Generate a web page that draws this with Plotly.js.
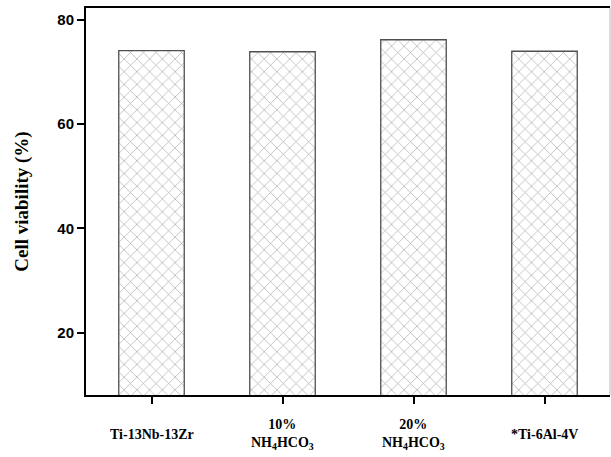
<!DOCTYPE html>
<html>
<head>
<meta charset="utf-8">
<script src="https://cdn.plot.ly/plotly-3.0.1.min.js"></script>
<style>html,body{margin:0;padding:0;background:#fff;}#chart{width:611px;height:457px;}</style>
</head>
<body>
<div id="chart"></div>
<script>
const categories = ["Ti-13Nb-13Zr", "10% NH4HCO3", "20% NH4HCO3", "*Ti-6Al-4V"];
const tickLabels = ["Ti-13Nb-13Zr", "10%<br>NH<sub>4</sub>HCO<sub>3</sub>", "20%<br>NH<sub>4</sub>HCO<sub>3</sub>", "*Ti-6Al-4V"];
const viability = [74.1, 73.9, 76.2, 74.0];
const yTicks = [20, 40, 60, 80];

const serif = "Liberation Serif, Times New Roman, serif";
const sans = "Liberation Sans, Arial, sans-serif";

const trace = {
  type: "bar",
  x: categories,
  y: viability,
  width: 0.5,
  marker: {
    color: "#ffffff",
    line: {color: "#505050", width: 1.3},
    pattern: {shape: "x", size: 9, solidity: 0.16, fgcolor: "#666666", bgcolor: "#ffffff", fillmode: "overlay"}
  },
  hoverinfo: "none"
};

const annotations = categories.map((c, i) => ({
  x: c, xref: "x", y: 0, yref: "paper",
  yanchor: "middle", xanchor: "center", yshift: -39,
  text: "<b>" + tickLabels[i] + "</b>", showarrow: false,
  font: {family: serif, size: 14, color: "#000"}
}));

const layout = {
  width: 611, height: 457,
  margin: {l: 86, r: 1, t: 8, b: 62},
  paper_bgcolor: "#fff", plot_bgcolor: "#fff",
  showlegend: false,
  xaxis: {
    type: "category",
    range: [-0.5, 3.5],
    showline: true, linecolor: "#000", linewidth: 2, mirror: true,
    ticks: "outside", ticklen: 7, tickwidth: 2, tickcolor: "#000",
    showticklabels: false, showgrid: false, zeroline: false, fixedrange: true
  },
  yaxis: {
    range: [8, 82.3],
    tickvals: yTicks,
    ticktext: yTicks.map(v => "<b>" + v + "</b>"),
    showline: true, linecolor: "#000", linewidth: 2,
    ticks: "outside", ticklen: 7, tickwidth: 2, tickcolor: "#000",
    tickfont: {family: sans, size: 15, color: "#000"},
    showgrid: false, zeroline: false, fixedrange: true,
    title: {text: "<b>Cell viability (%)</b>", font: {family: serif, size: 19, color: "#000"}, standoff: 24}
  },
  shapes: [{type: "line", xref: "paper", yref: "paper", x0: 1, x1: 1, y0: 0, y1: 1, line: {color: "#bbbbbb", width: 1}}],
  annotations: annotations
};

Plotly.newPlot("chart", [trace], layout, {displayModeBar: false, staticPlot: true});
</script>
</body>
</html>
